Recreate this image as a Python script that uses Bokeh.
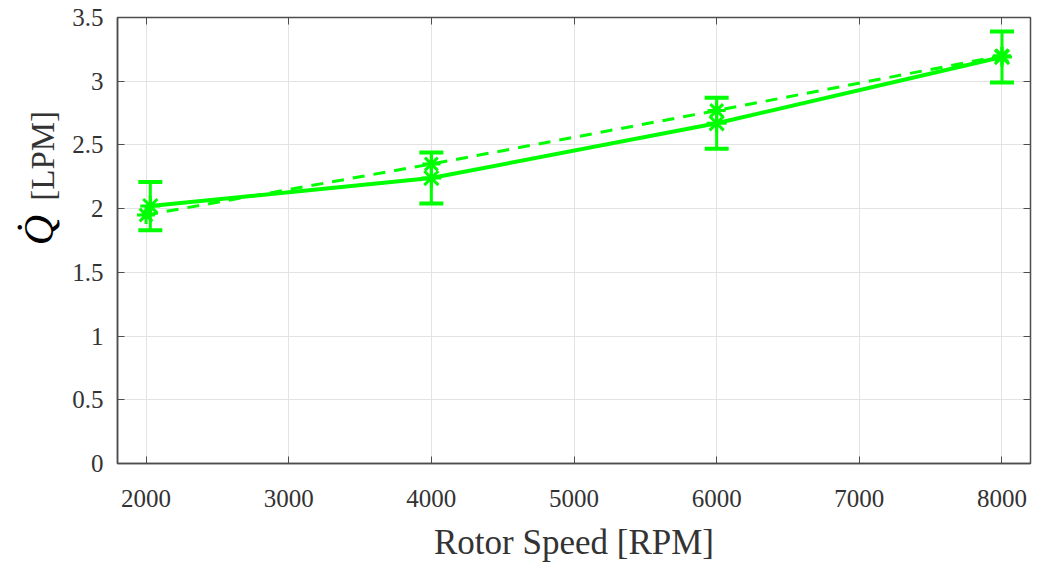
import numpy as np
from bokeh.plotting import figure
from bokeh.layouts import row
from bokeh.models import Whisker, ColumnDataSource, LinearAxis, FixedTicker, Label, TeeHead, Range1d
from bokeh.embed import file_html
from bokeh.resources import INLINE

# Data
rpm_meas = [2030, 4000, 6000, 8000]
q_meas = [2.02, 2.24, 2.67, 3.19]
q_err = [0.19, 0.20, 0.20, 0.20]
rpm_model = [2000, 4000, 6000, 8000]
q_model = [1.95, 2.35, 2.77, 3.20]
x_ticks = [2000, 3000, 4000, 5000, 6000, 7000, 8000]
y_ticks = [0, 0.5, 1, 1.5, 2, 2.5, 3, 3.5]
y_tick_labels = ["0", "0.5", "1", "1.5", "2", "2.5", "3", "3.5"]

GREEN = "#00FF00"
AX = "#4d4d4d"
FONT = "Liberation Serif"
LEFT_W = 60
H = 563

p = figure(frame_width=913, frame_height=446, output_backend="svg", toolbar_location=None,
           x_range=Range1d(1800, 8200), y_range=Range1d(0, 3.5),
           min_border_left=117 - LEFT_W, min_border_top=17, min_border_right=8, min_border_bottom=4)
p.outline_line_color = AX
p.outline_line_width = 1.5

for ax in p.xaxis:
    ax.ticker = FixedTicker(ticks=x_ticks)
    ax.axis_label = "Rotor Speed [RPM]"
    ax.major_label_standoff = 26
    ax.axis_label_standoff = 13
for ax in p.yaxis:
    ax.ticker = FixedTicker(ticks=y_ticks)
    ax.major_label_overrides = {t: l for t, l in zip(y_ticks, y_tick_labels)}
    ax.axis_label = None
    ax.major_label_standoff = 14

for ax in list(p.xaxis) + list(p.yaxis):
    ax.major_tick_in = 7
    ax.major_tick_out = 0
    ax.minor_tick_line_color = None
    ax.axis_line_color = AX
    ax.axis_line_width = 1.5
    ax.major_tick_line_color = AX
    ax.major_label_text_font = FONT
    ax.major_label_text_font_size = "25px"
    ax.major_label_text_color = "#333333"
    ax.axis_label_text_font = FONT
    ax.axis_label_text_font_size = "35px"
    ax.axis_label_text_font_style = "normal"
    ax.axis_label_text_color = "#333333"

# box ticks on top and right (no labels)
top = LinearAxis(ticker=FixedTicker(ticks=x_ticks), major_label_text_font_size="0px",
                 major_label_text_color=None,
                 major_tick_in=7, major_tick_out=0, minor_tick_line_color=None,
                 axis_line_color=AX, major_tick_line_color=AX, major_label_standoff=0)
right = LinearAxis(ticker=FixedTicker(ticks=y_ticks), major_label_text_font_size="0px",
                   major_label_text_color=None,
                   major_tick_in=7, major_tick_out=0, minor_tick_line_color=None,
                   axis_line_color=AX, major_tick_line_color=AX, major_label_standoff=0)
p.add_layout(top, "above")
p.add_layout(right, "right")

p.xgrid.grid_line_color = "#e3e3e3"
p.ygrid.grid_line_color = "#e3e3e3"

# model (dashed)
p.line(rpm_model, q_model, line_color=GREEN, line_width=3, line_dash="12 9")
p.scatter(rpm_model, q_model, marker="asterisk", size=18, line_color=GREEN, line_width=3)

# measured (solid) with error bars
src = ColumnDataSource(dict(x=rpm_meas, y=q_meas,
                            lo=[v - e for v, e in zip(q_meas, q_err)],
                            hi=[v + e for v, e in zip(q_meas, q_err)]))
p.line("x", "y", source=src, line_color=GREEN, line_width=4)
p.scatter("x", "y", source=src, marker="asterisk", size=20, line_color=GREEN, line_width=3)
w = Whisker(source=src, base="x", lower="lo", upper="hi", line_color=GREEN, line_width=3,
            upper_head=TeeHead(size=24, line_color=GREEN, line_width=4),
            lower_head=TeeHead(size=24, line_color=GREEN, line_width=4))
p.add_layout(w)

# y-axis label panel (a bare figure whose data units are pixels)
lp = figure(width=LEFT_W, height=H, output_backend="svg", toolbar_location=None,
            x_range=Range1d(0, LEFT_W), y_range=Range1d(0, H),
            x_axis_type=None, y_axis_type=None, min_border=0)
lp.outline_line_color = None
lp.grid.visible = False
lp.add_layout(Label(x=38, y=H - 269, text="Q\u0307", angle=np.pi / 2, text_font=FONT,
                    text_font_style="italic", text_font_size="42px", text_color="black",
                    text_align="center", text_baseline="middle"))
lp.add_layout(Label(x=42, y=H - 175, text="[LPM]", angle=np.pi / 2, text_font=FONT,
                    text_font_size="33px", text_color="#333333",
                    text_align="center", text_baseline="middle"))

layout = row(lp, p, spacing=0)
open("out.html", "w").write(file_html(layout, INLINE))
